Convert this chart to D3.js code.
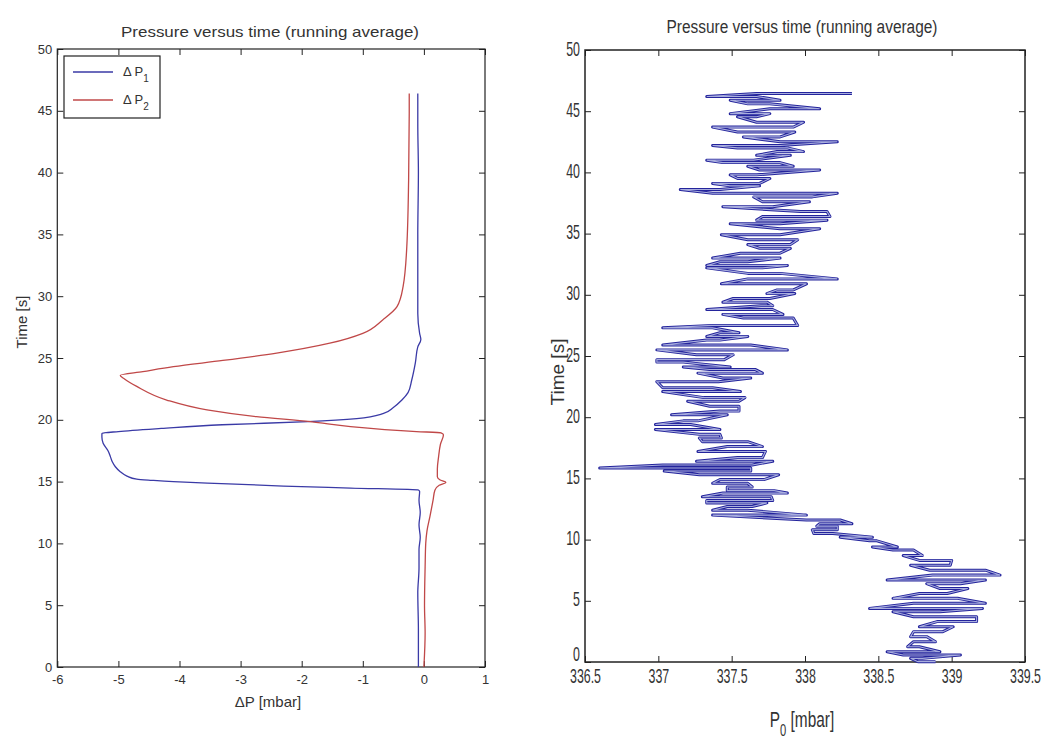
<!DOCTYPE html>
<html>
<head>
<meta charset="utf-8">
<script src="https://cdn.jsdelivr.net/npm/d3@7"></script>
<style>
  body { margin: 0; background: #fff; }
  text { font-family: "Liberation Sans", Arial, sans-serif; fill: #333; }
</style>
</head>
<body>
<svg id="chart" width="1042" height="740"></svg>
<script>
// ---------- Left panel: pressure differences (running average) ----------
const dp1Time = [0, 3, 6, 8, 9.5, 10.5, 11.5, 12.5, 13.5, 14.2, 14.32, 14.48, 14.64, 14.82, 14.99, 15.1, 15.2,
  15.45, 15.8, 16.2, 16.6, 17.0, 17.5, 18.1, 18.6, 18.9, 19.05, 19.3, 19.6, 19.85, 20.1, 20.5, 21.0, 21.6,
  22.2, 23.2, 24.6, 25.9, 26.5, 27.0, 28.6, 30, 35, 40, 44, 46.4];
const dp1Value = [-0.09, -0.09, -0.1, -0.08, -0.08, -0.06, -0.08, -0.06, -0.08, -0.07, -0.09, -1.2, -2.3, -3.2, -4.1, -4.45, -4.7,
  -4.86, -4.97, -5.05, -5.1, -5.13, -5.17, -5.25, -5.27, -5.27, -5.0, -4.3, -3.3, -1.9, -1.1, -0.67, -0.5, -0.36,
  -0.26, -0.2, -0.14, -0.1, -0.05, -0.07, -0.1, -0.1, -0.1, -0.09, -0.1, -0.1];

const dp2Time = [0, 2.75, 5, 8.1, 10, 11, 12.2, 13.5, 14.3, 14.7, 14.95, 15.15, 15.4, 16, 17, 18, 18.8, 18.95,
  19.05, 19.45, 19.85, 20.25, 20.8, 21.6, 22.7, 23.3, 23.6, 23.9, 24.3, 24.8, 25.4, 26.2, 27.0, 28.1, 29.15,
  30.8, 34, 39.4, 44.8, 46.4];
const dp2Value = [0.0, 0.02, 0.01, 0.02, 0.03, 0.05, 0.1, 0.15, 0.18, 0.25, 0.36, 0.26, 0.22, 0.22, 0.24, 0.27, 0.32, 0.28,
  -0.12, -1.2, -1.86, -2.74, -3.55, -4.21, -4.7, -4.9, -4.97, -4.6, -4.1, -3.29, -2.41, -1.54, -1.0, -0.67, -0.44,
  -0.34, -0.28, -0.25, -0.24, -0.24];

const leftXTicks = [-6, -5, -4, -3, -2, -1, 0, 1];
const timeTicks = [0, 5, 10, 15, 20, 25, 30, 35, 40, 45, 50];

// ---------- Right panel: absolute pressure P0, one sweep per row ----------
const sweepTime = [0.03, 0.3, 0.57, 0.84, 1.25, 1.66, 2.07, 2.48, 2.88, 3.3, 3.7, 4.1, 4.38, 4.8, 5.2, 5.6, 6.0, 6.4,
  6.7, 7.1, 7.5, 7.9, 8.3, 8.7, 9.15, 9.4, 9.9, 10.2, 10.5, 10.8, 11.1, 11.3, 11.6, 12.0, 12.4, 12.7, 13.0, 13.2,
  13.5, 13.8, 14.0, 14.3, 14.6, 14.9, 15.3, 15.6, 15.85, 16.1, 16.4, 16.7, 17.2, 17.6, 18.0, 18.3, 18.6, 19.0,
  19.4, 19.7, 20.2, 20.5, 20.9, 21.3, 21.6, 22.1, 22.4, 22.9, 23.2, 23.6, 23.9, 24.1, 24.5, 24.7, 25.1, 25.5,
  25.9, 26.3, 26.6, 26.9, 27.3, 27.5, 28.1, 28.4, 28.8, 29.1, 29.4, 29.7, 30.1, 30.4, 30.9, 31.3, 31.75, 32.2,
  32.4, 32.7, 33.0, 33.4, 33.8, 34.1, 34.5, 34.9, 35.4, 35.8, 36.1, 36.4, 36.8, 37.2, 37.6, 38.0, 38.3, 38.6,
  38.9, 39.1, 39.5, 39.8, 40.2, 40.5, 40.8, 41.0, 41.4, 41.7, 42.0, 42.2, 42.5, 42.9, 43.3, 43.7, 44.1, 44.55,
  44.8, 45.2, 45.6, 45.9, 46.2, 46.45];
const sweepLow = [338.77, 338.72, 338.67, 338.56, 338.70, 338.74, 338.72, 338.74, 338.78, 338.90, 338.74, 338.60, 338.44,
  338.74, 338.60, 338.78, 338.92, 338.83, 338.56, 338.87, 338.85, 338.72, 338.78, 338.67, 338.60, 338.46, 338.44,
  338.24, 338.06, 338.05, 338.08, 338.10, 338.01, 337.37, 337.37, 337.47, 337.33, 337.33, 337.30, 337.44, 337.47,
  337.47, 337.37, 337.42, 337.28, 337.04, 336.60, 337.03, 337.26, 337.54, 337.27, 337.47, 337.30, 337.28, 337.28,
  336.98, 336.98, 337.17, 337.09, 337.42, 337.35, 337.20, 337.31, 337.03, 337.03, 336.99, 337.44, 337.27, 337.35,
  337.17, 336.99, 336.99, 337.26, 336.99, 337.03, 337.33, 337.33, 337.42, 337.03, 337.37, 337.58, 337.44, 337.33,
  337.70, 337.44, 337.51, 337.74, 337.81, 337.43, 337.61, 337.61, 337.33, 337.33, 337.42, 337.37, 337.56, 337.69,
  337.61, 337.61, 337.43, 337.83, 337.49, 337.67, 337.71, 337.97, 337.44, 337.71, 337.65, 337.37, 337.15, 337.49,
  337.37, 337.54, 337.49, 337.69, 337.61, 337.44, 337.33, 337.67, 337.81, 337.54, 337.37, 337.83, 337.58, 337.54,
  337.37, 337.67, 337.54, 337.49, 337.76, 337.61, 337.49, 337.33, 337.67];
const sweepHigh = [338.89, 338.80, 339.06, 338.92, 338.78, 338.89, 338.83, 338.94, 339.01, 339.17, 339.17, 338.92, 339.21,
  339.23, 339.04, 338.97, 339.11, 339.06, 339.23, 339.33, 339.23, 338.99, 339.00, 338.80, 338.74, 338.63, 338.49,
  338.46, 338.19, 338.22, 338.22, 338.32, 338.24, 338.01, 337.61, 337.64, 337.74, 337.78, 337.77, 337.88, 337.79,
  337.64, 337.61, 337.72, 337.82, 337.63, 337.63, 337.64, 337.78, 337.71, 337.73, 337.71, 337.61, 337.43, 337.42,
  337.42, 337.22, 337.27, 337.47, 337.55, 337.55, 337.55, 337.59, 337.56, 337.37, 337.41, 337.63, 337.71, 337.66,
  337.49, 337.17, 337.45, 337.51, 337.88, 337.63, 337.42, 337.61, 337.55, 337.37, 337.95, 337.92, 337.85, 337.78,
  337.78, 337.74, 337.76, 337.93, 337.92, 338.01, 338.22, 337.83, 337.71, 337.88, 337.61, 337.83, 337.83, 337.90,
  337.90, 337.95, 337.83, 338.10, 337.83, 338.15, 338.17, 338.15, 337.78, 338.03, 338.05, 338.22, 337.42, 337.69,
  337.69, 337.76, 337.67, 338.10, 337.92, 337.83, 337.65, 337.90, 337.99, 337.88, 337.83, 338.22, 337.83, 337.93,
  337.92, 337.99, 337.67, 337.76, 338.10, 337.76, 337.83, 337.67, 338.32];

const rightXTicks = [336.5, 337, 337.5, 338, 338.5, 339, 339.5];

// ---------- drawing ----------
const svg = d3.select('#chart');

const xL = d3.scaleLinear().domain([-6, 1]).range([57.3, 485]);
const yL = d3.scaleLinear().domain([0, 50]).range([667, 49]);
const xR = d3.scaleLinear().domain([336.5, 339.5]).range([585, 1025]);
const yR = d3.scaleLinear().domain([0, 50]).range([662, 50]);

// Box-style axes: ticks pointing inward on all four sides
function boxAxes(x, y, xTicks, yTicks, o) {
  const g = svg.append('g').attr('color', '#222');
  const [xa, xb] = x.range();
  const [yb, ya] = y.range();
  const bottom = g.append('g').attr('transform', `translate(0,${yb})`)
    .call(d3.axisBottom(x).tickValues(xTicks).tickSizeInner(-o.tick).tickSizeOuter(0)
      .tickPadding(o.xPad).tickFormat(d => String(d)));
  g.append('g').attr('transform', `translate(0,${ya})`)
    .call(d3.axisTop(x).tickValues(xTicks).tickSizeInner(-o.tick).tickSizeOuter(0).tickFormat(''));
  const left = g.append('g').attr('transform', `translate(${xa},0)`)
    .call(d3.axisLeft(y).tickValues(yTicks).tickSizeInner(-o.tick).tickSizeOuter(0)
      .tickPadding(o.yPad).tickFormat(d => String(d)));
  g.append('g').attr('transform', `translate(${xb},0)`)
    .call(d3.axisRight(y).tickValues(yTicks).tickSizeInner(-o.tick).tickSizeOuter(0).tickFormat(''));
  g.selectAll('.domain').remove();
  g.selectAll('.tick line').attr('stroke-width', 1);
  g.selectAll('text').attr('font-size', o.font).attr('fill', '#3a3a3a')
    .attr('font-family', '"Liberation Sans", Arial, sans-serif');
  g.append('rect').attr('x', xa).attr('y', ya).attr('width', xb - xa).attr('height', yb - ya)
    .attr('fill', 'none').attr('stroke', '#222').attr('stroke-width', o.frame);
  return { bottom, left };
}

// Left panel
boxAxes(xL, yL, leftXTicks, timeTicks, { tick: 6, xPad: 8, yPad: 5, font: 13, frame: 1.2 });

const lineL = d3.line().x(d => xL(d[1])).y(d => yL(d[0])).curve(d3.curveMonotoneY);
svg.append('path').datum(dp1Time.map((t, i) => [t, dp1Value[i]]))
  .attr('d', lineL).attr('fill', 'none').attr('stroke', '#3a3aa6').attr('stroke-width', 1.3);
svg.append('path').datum(dp2Time.map((t, i) => [t, dp2Value[i]]))
  .attr('d', lineL).attr('fill', 'none').attr('stroke', '#c04848').attr('stroke-width', 1.3);

svg.append('text').attr('x', 270).attr('y', 37).attr('text-anchor', 'middle')
  .attr('font-size', 15).attr('textLength', 298).attr('lengthAdjust', 'spacingAndGlyphs')
  .text('Pressure versus time (running average)');
svg.append('text').attr('x', 268).attr('y', 707).attr('text-anchor', 'middle')
  .attr('font-size', 15).text('ΔP [mbar]');
svg.append('text').attr('transform', 'translate(27,322) rotate(-90)').attr('text-anchor', 'middle')
  .attr('font-size', 15).text('Time [s]');

// Legend
const leg = svg.append('g');
leg.append('rect').attr('x', 64).attr('y', 56).attr('width', 96).attr('height', 62)
  .attr('fill', '#fff').attr('stroke', '#222').attr('stroke-width', 1.2);
[{ c: '#3a3aa6', s: '1', y: 72 }, { c: '#c04848', s: '2', y: 100 }].forEach(e => {
  leg.append('line').attr('x1', 73).attr('x2', 113).attr('y1', e.y).attr('y2', e.y)
    .attr('stroke', e.c).attr('stroke-width', 1.3);
  const t = leg.append('text').attr('x', 123).attr('y', e.y + 4).attr('font-size', 13);
  t.append('tspan').text('Δ P');
  t.append('tspan').attr('dy', 6).attr('font-size', 10).text(e.s);
});

// Right panel
const axR = boxAxes(xR, yR, rightXTicks, timeTicks, { tick: 6, xPad: 7, yPad: 5, font: 20, frame: 1.5 });
axR.bottom.selectAll('text').attr('transform', 'scale(0.62,1)');
axR.left.selectAll('text').attr('x', -5 / 0.62).attr('transform', 'scale(0.62,1)')
  .attr('dy', d => d === 0 ? '-0.1em' : '0.25em');

const sweepPts = [];
sweepTime.forEach((t, i) => {
  const up = (sweepTime.length - 1 - i) % 2 === 0;
  if (up) { sweepPts.push([t, sweepLow[i]], [t, sweepHigh[i]]); }
  else { sweepPts.push([t, sweepHigh[i]], [t, sweepLow[i]]); }
});
const lineR = d3.line().x(d => xR(d[1])).y(d => yR(d[0]));
svg.append('path').datum(sweepPts).attr('d', lineR).attr('fill', 'none')
  .attr('stroke', '#24249c').attr('stroke-width', 3).attr('stroke-linejoin', 'round');
svg.append('path').datum(sweepPts).attr('d', lineR).attr('fill', 'none')
  .attr('stroke', '#a9aede').attr('stroke-width', 1.1);

svg.append('text').attr('x', 802).attr('y', 33).attr('text-anchor', 'middle')
  .attr('font-size', 18).attr('textLength', 271).attr('lengthAdjust', 'spacingAndGlyphs')
  .text('Pressure versus time (running average)');
svg.append('text').attr('transform', 'translate(564,372) rotate(-90)').attr('text-anchor', 'middle')
  .attr('font-size', 19).text('Time [s]');
const pl = svg.append('g').attr('transform', 'translate(802,727) scale(0.7,1)');
const pt = pl.append('text').attr('text-anchor', 'middle').attr('font-size', 22);
pt.append('tspan').text('P');
pt.append('tspan').attr('dy', 9).attr('font-size', 16).text('0');
pt.append('tspan').attr('dy', -9).text(' [mbar]');
</script>
</body>
</html>
